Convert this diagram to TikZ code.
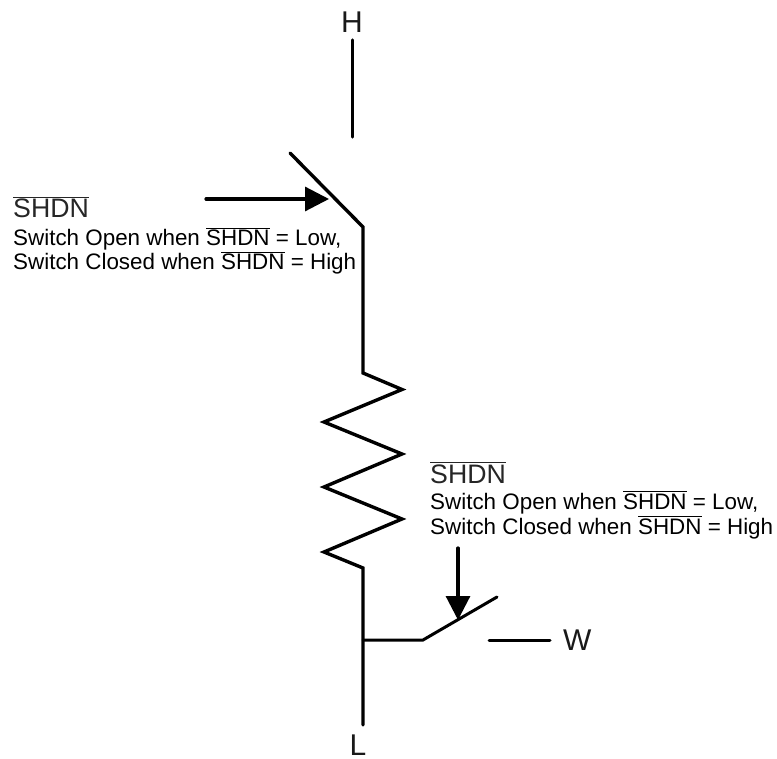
\documentclass[tikz,border=0pt]{standalone}
\usepackage{fontspec}
\setmainfont{Liberation Sans}
\usetikzlibrary{arrows.meta}
\newcommand{\barshdn}[1]{\vbox{\hrule height #1\kern 1.2pt\hbox{SHDN}}}
\tikzset{
  wire/.style={line width=3.4pt,line cap=round,line join=miter,black},
  thinwire/.style={line width=3pt,line cap=round,line join=miter,black},
  ctrl/.style={line width=3.2pt,black,line cap=round,-{Triangle[length=24pt,width=24pt]}},
  title/.style={anchor=base west,inner sep=0pt,font=\fontsize{26.7}{28}\selectfont,text=black!85},
  desc/.style={anchor=base west,inner sep=0pt,font=\fontsize{22.4}{26}\selectfont,text=black},
  pin/.style={anchor=base,inner sep=0pt,font=\fontsize{30}{32}\selectfont,text=black!90}
}
\begin{document}
\begin{tikzpicture}[x=1pt,y=-1pt]
\useasboundingbox (0,0) rectangle (777,759);
% terminals
\node[pin] (H) at (352,33) {H};
\node[pin] (L) at (358,755) {L};
\node[pin,anchor=base west] (W) at (563,650) {W};
% upper label
\node[title] (t1) at (13,218) {\barshdn{1.3pt}};
\node[desc] (d1a) at (13,246) {Switch Open when \barshdn{1.2pt} = Low,};
\node[desc] (d1b) at (13,270) {Switch Closed when \barshdn{1.2pt} = High};
% lower label
\node[title] (t2) at (430,483) {\barshdn{1.3pt}};
\node[desc] (d2a) at (430,509) {Switch Open when \barshdn{1.2pt} = Low,};
\node[desc] (d2b) at (430,534) {Switch Closed when \barshdn{1.2pt} = High};
% points
\coordinate (hEnd) at (352.5,40);
\coordinate (hBot) at (352.5,137);
\coordinate (swTop) at (290,153);
\coordinate (swPiv) at (363,227);
\coordinate (rTop) at (363,373);
\coordinate (rBot) at (363,568);
\coordinate (lEnd) at (363,725);
\coordinate (tap) at (363,640);
\coordinate (wPiv) at (423,640);
\coordinate (wTip) at (497,597);
\coordinate (wA) at (489,640);
\coordinate (wB) at (550,640);
\coordinate (a1s) at (206,199);
\coordinate (a1e) at (329,199);
\coordinate (a2s) at (458,548);
\coordinate (a2e) at (458,620);
% wiring
\draw[wire] (hEnd) -- (hBot);
\draw[wire] (swTop) -- (swPiv) -- (rTop)
  -- (402,389.5) -- (324,422) -- (402,454) -- (324,487) -- (402,519) -- (324,552)
  -- (rBot) -- (lEnd);
\draw[thinwire] (tap) -- (wPiv) -- (wTip);
\draw[thinwire] (wA) -- (wB);
% control arrows
\draw[ctrl] (a1s) -- (a1e);
\draw[ctrl] (a2s) -- (a2e);
\end{tikzpicture}
\end{document}
